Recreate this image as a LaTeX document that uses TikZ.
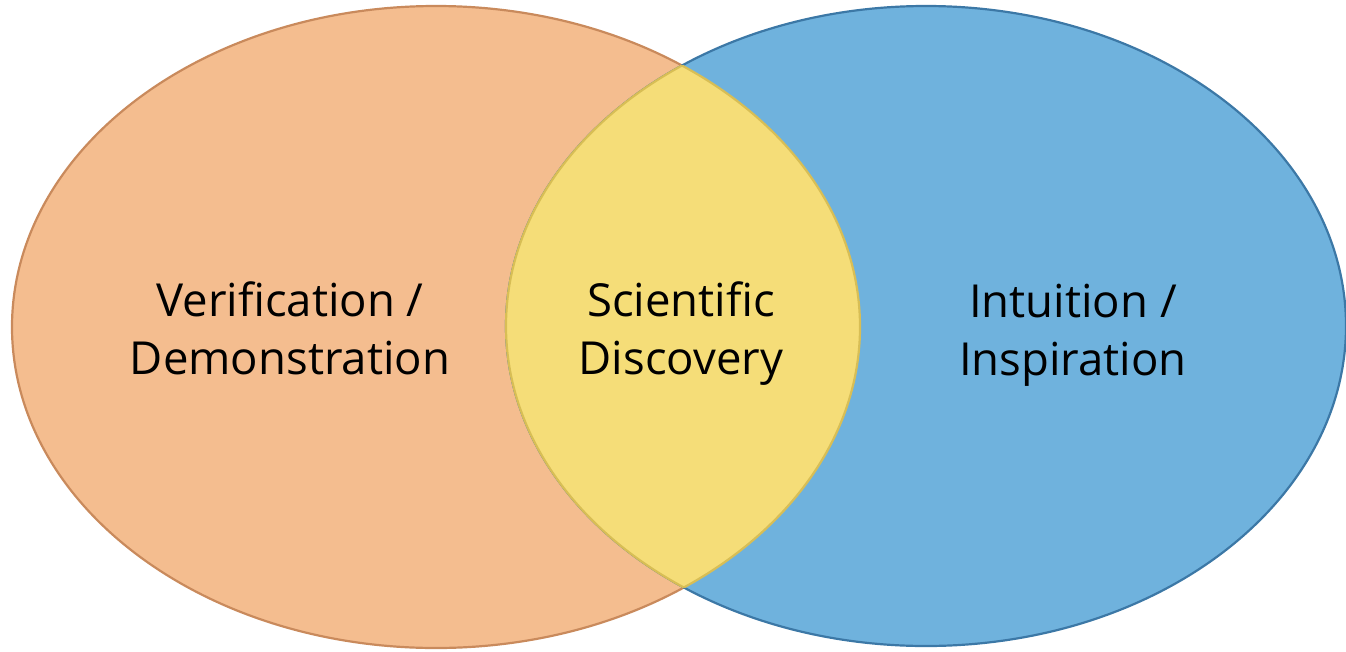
\documentclass[tikz,border=0pt]{standalone}
\usepackage{fontspec}
\setmainfont{Open Sans}
\usepackage{tikz}
\usetikzlibrary{positioning}

\definecolor{verifill}{HTML}{F4BD8F}
\definecolor{veriline}{HTML}{C98A5C}
\definecolor{intufill}{HTML}{6FB2DD}
\definecolor{intuline}{HTML}{3C78A6}
\definecolor{discfill}{HTML}{F5DD78}
\definecolor{discline}{HTML}{D8BE55}

\begin{document}
\begin{tikzpicture}[x=1pt, y=-1pt,
    every node/.style={align=center, font=\fontsize{45.5}{58}\selectfont},
    set/.style={line width=2.2pt}]
    \useasboundingbox (0,0) rectangle (1346,651);

    % the two sets
    \filldraw[set, fill=verifill, draw=veriline] (436,327) ellipse [x radius=424, y radius=321];
    \filldraw[set, fill=intufill, draw=intuline] (926,326) ellipse [x radius=420, y radius=320];

    % overlap
    \begin{scope}
      \clip (436,327) ellipse [x radius=424, y radius=321];
      \fill[discfill] (926,326) ellipse [x radius=420, y radius=320];
      \draw[set, draw=discline] (926,326) ellipse [x radius=420, y radius=320];
    \end{scope}
    \begin{scope}
      \clip (926,326) ellipse [x radius=420, y radius=320];
      \draw[set, draw=discline] (436,327) ellipse [x radius=424, y radius=321];
    \end{scope}

    \node (veri) at (290,328) {Verification /\\Demonstration};
    \node (disc) at (681,334) {Scientific\\Discovery};
    \node (intu) at (1073,335) {Intuition /\\Inspiration};
\end{tikzpicture}
\end{document}
